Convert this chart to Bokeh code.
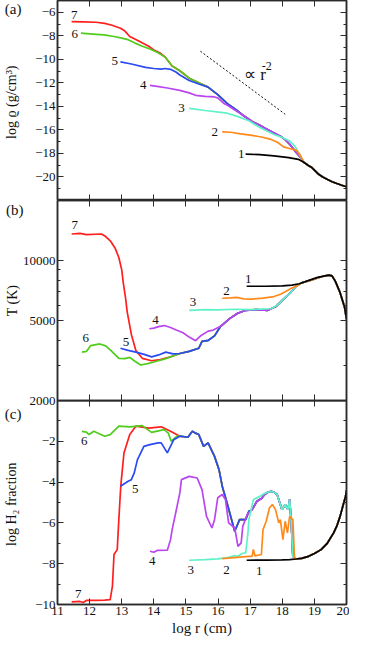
from bokeh.plotting import figure
from bokeh.models import Range1d, LinearAxis, LogAxis, FixedTicker
from bokeh.layouts import column
from bokeh.embed import file_html
from bokeh.resources import INLINE
from bokeh.core.properties import value

# ---------------- data ----------------
x_ticks = [11, 12, 13, 14, 15, 16, 17, 18, 19, 20]
rho_ticks = [-20, -18, -16, -14, -12, -10, -8, -6]
rho_minor = [-21, -19, -17, -15, -13, -11, -9, -7, -5]
T_ticks = [2000, 5000, 10000]
T_minor = [3000, 4000, 6000, 7000, 8000, 9000, 20000]
h2_ticks = [-10, -8, -6, -4, -2]
h2_minor = [-9, -7, -5, -3, -1]

# ---- panel (a): log density ----
rho_outer_x = [18.67, 18.8, 18.92, 19.11, 19.26, 19.41, 19.55, 19.7, 19.85, 20.0]
rho_outer_y = [-18.75, -19.0, -19.2, -19.72, -20.0, -20.22, -20.4, -20.56, -20.7, -20.83]
rho_mid_x = [15.69, 15.99, 16.28, 16.57, 16.8, 17.06, 17.3, 17.45, 17.7, 17.94, 18.1, 18.23, 18.4, 18.57]
rho_mid_y = [-12.36, -13.0, -13.75, -14.3, -14.8, -15.28, -15.6, -15.83, -16.2, -16.53, -16.85, -17.22, -17.8, -18.33]

rho7_x = [11.44, 11.8, 12.2, 12.47, 12.7, 12.96, 13.1, 13.25, 13.5, 13.84, 14.0, 14.18, 14.35, 14.57, 14.81, 15.1, 15.4]
rho7_y = [-6.8, -6.82, -6.85, -6.94, -7.1, -7.36, -7.6, -8.06, -8.4, -8.89, -9.2, -9.44, -9.8, -10.56, -10.97, -11.6, -12.0]
rho6_x = [11.73, 12.1, 12.45, 12.76, 13.0, 13.2, 13.4, 13.64, 13.9, 14.13, 14.35, 14.57, 14.81, 15.1, 15.4]
rho6_y = [-7.78, -7.85, -7.92, -8.06, -8.2, -8.33, -8.6, -8.89, -9.15, -9.44, -9.8, -10.56, -10.97, -11.6, -12.0]
rho5_x = [12.96, 13.3, 13.74, 14.0, 14.23, 14.35, 14.52, 14.7, 14.81, 15.1, 15.4]
rho5_y = [-10.22, -10.4, -10.69, -10.78, -10.83, -10.78, -10.85, -11.1, -11.33, -11.8, -12.1]
rho4_x = [13.88, 14.1, 14.42, 14.81, 15.1, 15.3, 15.6, 15.89, 15.99, 16.18, 16.28, 16.57, 16.8]
rho4_y = [-12.22, -12.3, -12.44, -12.64, -12.85, -13.06, -13.15, -13.2, -13.28, -13.75, -13.89, -14.39, -14.8]
rho3_x = [15.1, 15.6, 16.28, 16.6, 16.96, 17.3, 17.74, 18.0, 18.23, 18.4, 18.53]
rho3_y = [-14.17, -14.35, -14.58, -14.85, -15.22, -15.8, -16.39, -16.65, -16.94, -17.4, -18.06]
rho2_x = [16.13, 16.4, 16.7, 17.06, 17.35, 17.65, 17.85, 18.04, 18.25, 18.43, 18.55]
rho2_y = [-16.17, -16.2, -16.33, -16.47, -16.6, -16.81, -17.05, -17.44, -17.6, -17.72, -18.1]
rho1_x = [16.86, 17.3, 17.74, 18.2, 18.5]
rho1_y = [-18.06, -18.1, -18.2, -18.35, -18.5]

slope_x = [15.45, 18.09]
slope_y = [-9.31, -14.67]

# ---- panel (b): temperature ----
T_outer_x = [18.43, 18.6, 18.92, 19.1, 19.3, 19.45, 19.55, 19.65, 19.8, 19.94, 20.0]
T_outer_y = [7450, 7750, 8020, 8200, 8380, 8470, 8400, 7900, 6920, 5860, 5100]
T_mid_x = [14.81, 15.1, 15.4, 15.5, 15.7, 15.89, 16.08, 16.37, 16.6, 16.86, 17.2, 17.55, 17.8, 18.04, 18.25]
T_mid_y = [3435, 3520, 3650, 3950, 4000, 4210, 4700, 5150, 5450, 5650, 5700, 5650, 5900, 6430, 6900]

T7_x = [11.44, 11.7, 11.9, 12.37, 12.5, 12.66, 12.8, 12.91, 13.0, 13.05, 13.12, 13.17, 13.3, 13.44, 13.64, 13.93, 14.2, 14.5]
T7_y = [13600, 13700, 13500, 13600, 13200, 12480, 11500, 10380, 9000, 7730, 6500, 5550, 4280, 3560, 3250, 3160, 3200, 3300]
T6_x = [11.76, 11.9, 12.03, 12.32, 12.5, 12.66, 12.91, 13.1, 13.25, 13.4, 13.59, 13.8, 14.03, 14.4]
T6_y = [3490, 3520, 3760, 3835, 3750, 3560, 3250, 3240, 3285, 3150, 3010, 3060, 3125, 3250]
T5_x = [12.96, 13.2, 13.44, 13.7, 13.93, 14.15, 14.37, 14.6]
T5_y = [3650, 3560, 3490, 3400, 3305, 3380, 3490, 3420]
T4_x = [13.86, 14.0, 14.15, 14.32, 14.5, 14.7, 14.91, 15.1, 15.3, 15.45, 15.69, 15.85]
T4_y = [4570, 4600, 4680, 4740, 4650, 4500, 4360, 4150, 3980, 4200, 4445, 4500]
T3_x = [15.1, 15.6, 16.0, 16.5, 17.0, 17.65, 17.85, 18.04, 18.25]
T3_y = [5650, 5700, 5680, 5720, 5700, 5750, 6000, 6430, 6900]
T2_x = [16.13, 16.4, 16.57, 16.8, 17.06, 17.4, 17.74, 17.95, 18.13, 18.3]
T2_y = [6490, 6520, 6550, 6450, 6430, 6500, 6620, 6800, 7050, 7300]
T1_x = [16.89, 17.5, 18.0, 18.3, 18.53, 18.92, 19.1, 19.3, 19.45, 19.55, 19.65, 19.8, 19.94, 20.0]
T1_y = [7450, 7450, 7480, 7550, 7670, 8070, 8250, 8380, 8470, 8400, 7900, 6920, 5860, 5100]

# ---- panel (c): log H2 fraction ----
h_outer_x = [18.43, 18.6, 18.82, 19.0, 19.21, 19.4, 19.6, 19.7, 19.8, 19.9, 19.97, 20.0]
h_outer_y = [-7.77, -7.74, -7.64, -7.5, -7.31, -7.0, -6.49, -6.15, -5.68, -5.1, -4.7, -4.4]
h_hi_x = [17.55, 17.65, 17.75, 17.84, 17.99, 18.09, 18.18, 18.23, 18.28, 18.33]
h_hi_y = [-4.5, -4.45, -4.5, -4.61, -5.35, -5.1, -5.35, -4.86, -6.0, -7.64]
h_top_x = [14.81, 15.06, 15.2, 15.3, 15.4, 15.55, 15.69, 15.89, 16.03, 16.13, 16.28, 16.42, 16.52, 16.67, 16.86, 16.96, 17.06, 17.21, 17.35, 17.45]
h_top_y = [-1.75, -1.8, -1.51, -1.6, -1.67, -2.25, -2.08, -2.74, -3.39, -4.2, -5.02, -5.84, -6.41, -5.84, -5.84, -5.43, -5.35, -4.94, -4.8, -4.61]

h7_x = [11.44, 11.7, 11.8, 11.9, 12.2, 12.47, 12.64, 12.71, 12.76, 12.86, 12.91, 12.97, 13.07, 13.25, 13.44, 13.84, 14.23, 14.52]
h7_y = [-9.87, -9.85, -9.9, -9.8, -9.8, -9.79, -9.76, -9.11, -7.55, -7.31, -5.84, -4.2, -2.57, -1.67, -1.26, -1.35, -1.29, -1.51]
h6_x = [11.76, 11.9, 11.98, 12.13, 12.47, 12.64, 12.91, 13.25, 13.64, 13.93, 14.32, 14.45, 14.54, 14.72]
h6_y = [-1.51, -1.55, -1.67, -1.51, -1.75, -1.67, -1.26, -1.29, -1.23, -1.56, -1.43, -1.6, -2.0, -1.75]
h5_x = [12.96, 13.2, 13.3, 13.39, 13.49, 13.54, 13.69, 13.88, 14.13, 14.23, 14.42, 14.62]
h5_y = [-4.2, -3.96, -3.88, -3.55, -2.9, -2.74, -2.25, -2.16, -2.08, -2.08, -2.57, -1.92]
h4_x = [13.88, 14.0, 14.1, 14.42, 14.52, 14.57, 14.67, 14.81, 14.86, 15.1, 15.35, 15.5, 15.64, 15.81, 15.89, 15.99,
        16.13, 16.23, 16.33, 16.52, 16.62, 16.72, 16.77, 16.91, 16.96, 17.06, 17.21, 17.35, 17.45]
h4_y = [-7.39, -7.44, -7.35, -7.34, -6.82, -6.33, -5.59, -4.53, -3.88, -3.72, -3.8, -4.37, -5.68, -6.25, -5.84, -4.77,
        -4.61, -4.86, -6.0, -6.25, -7.15, -6.98, -6.17, -5.59, -5.5, -5.35, -4.94, -4.8, -4.61]
h3_x = [15.1, 15.6, 15.99, 16.3, 16.52, 16.6, 16.75, 16.86, 16.93, 16.96, 17.1, 17.3, 17.45]
h3_y = [-7.83, -7.8, -7.76, -7.7, -7.6, -7.65, -7.5, -7.47, -6.5, -5.84, -4.86, -4.7, -4.55]
h2_x = [16.13, 16.5, 16.96, 17.06, 17.1, 17.15, 17.35, 17.4, 17.5, 17.6, 17.69, 17.79, 17.89, 17.94, 18.02, 18.09,
        18.16, 18.23, 18.33, 18.38]
h2_y = [-7.75, -7.7, -7.64, -7.64, -7.3, -7.62, -7.55, -6.33, -5.92, -5.27, -5.1, -5.35, -6.0, -5.84, -6.82, -5.92,
        -6.49, -5.68, -5.84, -7.72]
h1_x = [16.89, 17.5, 18.0, 18.23]
h1_y = [-7.83, -7.82, -7.81, -7.8]

# curve-number label positions per panel
lab_names = ["7", "6", "5", "4", "3", "2", "1"]
lab_a_x = [11.52, 11.54, 12.78, 13.67, 14.86, 15.9, 16.72]
lab_a_y = [-6.25, -7.86, -10.14, -12.17, -14.11, -16.17, -18.06]
lab_b_x = [11.54, 11.88, 13.13, 14.05, 15.22, 16.26, 16.94]
lab_b_y = [15000, 4120, 3900, 5060, 6195, 7050, 8070]
lab_c_x = [11.65, 11.83, 13.42, 13.95, 15.15, 16.26, 17.28]
lab_c_y = [-9.47, -2.0, -4.33, -7.85, -8.29, -8.29, -8.37]

# panel tags: (text, y position)
tag_a = ("(a)", -5.67)
tag_b = ("(b)", 17870)
tag_c = ("(c)", -0.68)

colors = ["#ff1f1f", "#4fcc1c", "#2b4af2", "#b946f0", "#5ff2c8", "#ff8a1a", "#000000"]

# ---------------- styling helpers ----------------
FONT = "Liberation Serif"
AXC = "#2a2a2a"
TXT = "#111111"
LW = 1.7
OVER = 8   # room below panel (b) so its bottom tick label is not cut


def style_axis(ax, ticks, minor, labels):
    ax.ticker = FixedTicker(ticks=ticks, minor_ticks=minor)
    ax.major_tick_in = 6
    ax.major_tick_out = 0
    ax.minor_tick_in = 3
    ax.minor_tick_out = 0
    ax.major_tick_line_color = AXC
    ax.minor_tick_line_color = AXC
    ax.axis_line_color = AXC
    ax.axis_line_width = 1.5
    ax.major_label_text_font = FONT
    ax.major_label_text_color = TXT
    ax.major_label_text_font_size = "13px"
    ax.major_label_standoff = 2
    ax.axis_label_text_font = FONT
    ax.axis_label_text_font_style = "normal"
    ax.axis_label_text_font_size = "14px"
    ax.axis_label_text_color = TXT
    if not labels:
        ax.major_label_text_font_size = "0px"
        ax.major_label_text_color = None
        ax.major_label_standoff = 0


def add_tag_axis(p, log, tag, ylabel, standoff):
    txt, pos = tag
    ax = LogAxis() if log else LinearAxis()
    ax.ticker = FixedTicker(ticks=[pos], minor_ticks=[])
    ax.major_label_overrides = {pos: txt}
    ax.axis_line_color = None
    ax.major_tick_line_color = None
    ax.minor_tick_line_color = None
    ax.major_tick_in = 0
    ax.major_tick_out = 0
    ax.minor_tick_in = 0
    ax.minor_tick_out = 0
    ax.major_label_standoff = standoff
    ax.major_label_text_font = FONT
    ax.major_label_text_font_size = "15px"
    ax.major_label_text_color = TXT
    ax.axis_label = ylabel
    ax.axis_label_text_font = FONT
    ax.axis_label_text_font_style = "normal"
    ax.axis_label_text_font_size = "14px"
    ax.axis_label_text_color = TXT
    ax.axis_label_standoff = -17
    p.add_layout(ax, "left")


def make_fig(height, y_range, log, y_ticks, y_minor, show_x, bottom=0):
    p = figure(width=349, height=height, x_range=Range1d(11, 20), y_range=y_range,
               y_axis_type="log" if log else "linear",
               output_backend="svg", toolbar_location=None,
               min_border_left=48, min_border_right=3, min_border_top=0, min_border_bottom=bottom)
    p.xgrid.visible = False
    p.ygrid.visible = False
    p.outline_line_color = AXC
    p.outline_line_width = 1.5
    p.background_fill_color = None
    p.border_fill_color = None
    style_axis(p.xaxis[0], x_ticks, [], show_x)
    style_axis(p.yaxis[0], y_ticks, y_minor, True)
    if show_x:
        p.xaxis[0].axis_label = "log r (cm)"
        p.xaxis[0].axis_label_standoff = 2
        p.xaxis[0].axis_label_text_font_size = "15px"
    top = LinearAxis()
    style_axis(top, x_ticks, [], False)
    p.add_layout(top, "above")
    right = LogAxis() if log else LinearAxis()
    style_axis(right, y_ticks, y_minor, False)
    p.add_layout(right, "right")
    return p


def add_labels(p, xs, ys):
    p.text(x=xs, y=ys, text=lab_names, text_font=value(FONT), text_font_size="13px",
           text_align="center", text_baseline="middle", text_color=TXT)


# ---------------- panel (a) ----------------
pa = make_fig(200, Range1d(-22, -5), False, rho_ticks, rho_minor, False)
add_tag_axis(pa, False, tag_a, "log ϱ  (g/cm³)", 11)
curves_a = [
    (rho7_x + rho_mid_x + rho_outer_x, rho7_y + rho_mid_y + rho_outer_y),
    (rho6_x + rho_mid_x + rho_outer_x, rho6_y + rho_mid_y + rho_outer_y),
    (rho5_x + rho_mid_x + rho_outer_x, rho5_y + rho_mid_y + rho_outer_y),
    (rho4_x + rho_mid_x[5:] + rho_outer_x, rho4_y + rho_mid_y[5:] + rho_outer_y),
    (rho3_x + rho_outer_x, rho3_y + rho_outer_y),
    (rho2_x + rho_outer_x, rho2_y + rho_outer_y),
    (rho1_x + rho_outer_x, rho1_y + rho_outer_y),
]
for (xs, ys), c in zip(curves_a, colors):
    pa.line(xs, ys, line_color=c, line_width=LW)
pa.line(slope_x, slope_y, line_color=TXT, line_width=1, line_dash="2 2")
pa.text(x=[16.81], y=[-11.3], text=["∝ r"], text_font=value(FONT), text_font_size="17px",
        text_align="left", text_baseline="middle", text_color=TXT)
pa.text(x=[17.36], y=[-10.6], text=["-2"], text_font=value(FONT), text_font_size="12px",
        text_align="left", text_baseline="middle", text_color=TXT)
add_labels(pa, lab_a_x, lab_a_y)

# ---------------- panel (b) ----------------
pb = make_fig(200 + OVER, Range1d(2000, 20000), True, T_ticks, T_minor, False, bottom=OVER)
add_tag_axis(pb, True, tag_b, "T (K)", -4)
curves_b = [
    (T7_x + T_mid_x + T_outer_x, T7_y + T_mid_y + T_outer_y),
    (T6_x + T_mid_x + T_outer_x, T6_y + T_mid_y + T_outer_y),
    (T5_x + T_mid_x + T_outer_x, T5_y + T_mid_y + T_outer_y),
    (T4_x + T_mid_x[6:] + T_outer_x, T4_y + T_mid_y[6:] + T_outer_y),
    (T3_x + T_outer_x, T3_y + T_outer_y),
    (T2_x + T_outer_x, T2_y + T_outer_y),
    (T1_x, T1_y),
]
for (xs, ys), c in zip(curves_b, colors):
    pb.line(xs, ys, line_color=c, line_width=LW)
add_labels(pb, lab_b_x, lab_b_y)

# ---------------- panel (c) ----------------
pc = make_fig(238, Range1d(-10, 0), False, h2_ticks, h2_minor, True)
pc.margin = (-OVER, 0, 0, 0)
add_tag_axis(pc, False, tag_c, "log  H₂ fraction", 11)
curves_c = [
    (h7_x + h_top_x + h_hi_x + h_outer_x, h7_y + h_top_y + h_hi_y + h_outer_y),
    (h6_x + h_top_x + h_hi_x + h_outer_x, h6_y + h_top_y + h_hi_y + h_outer_y),
    (h5_x + h_top_x + h_hi_x + h_outer_x, h5_y + h_top_y + h_hi_y + h_outer_y),
    (h4_x + h_hi_x + h_outer_x, h4_y + h_hi_y + h_outer_y),
    (h3_x + h_hi_x + h_outer_x, h3_y + h_hi_y + h_outer_y),
    (h2_x + h_outer_x, h2_y + h_outer_y),
    (h1_x + h_outer_x, h1_y + h_outer_y),
]
for (xs, ys), c in zip(curves_c, colors):
    pc.line(xs, ys, line_color=c, line_width=LW)
add_labels(pc, lab_c_x, lab_c_y)

page = column(pa, pb, pc)
open("out.html", "w").write(file_html(page, INLINE))
